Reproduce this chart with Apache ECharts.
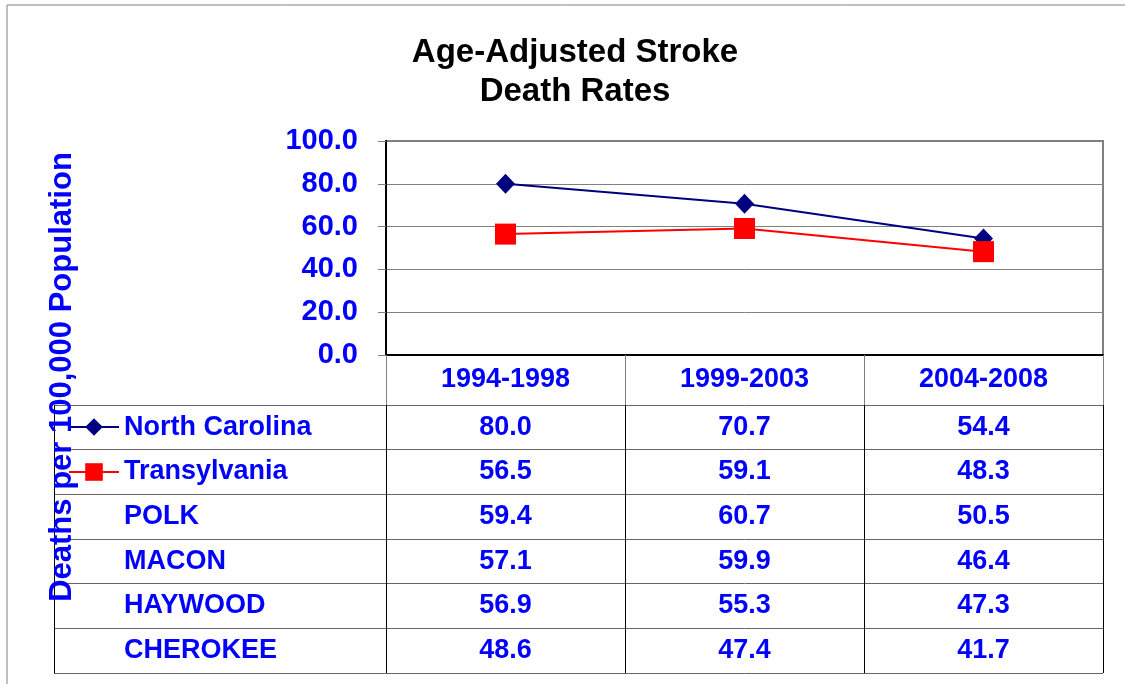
<!DOCTYPE html>
<html>
<head>
<meta charset="utf-8">
<title>Age-Adjusted Stroke Death Rates</title>
<script src="https://cdn.jsdelivr.net/npm/echarts@6/dist/echarts.min.js"></script>
<style>
  html, body { margin: 0; padding: 0; background: #fff; }
  #chart { width: 1125px; height: 684px; }
</style>
</head>
<body>
<div id="chart"></div>
<script>
// periods on the category axis
const periods = ['1994-1998', '1999-2003', '2004-2008'];
// rows of the data table
const rowNames = ['North Carolina', 'Transylvania', 'POLK', 'MACON', 'HAYWOOD', 'CHEROKEE'];
const northCarolina = [80.0, 70.7, 54.4];
const transylvania = [56.5, 59.1, 48.3];
const polk = [59.4, 60.7, 50.5];
const macon = [57.1, 59.9, 46.4];
const haywood = [56.9, 55.3, 47.3];
const cherokee = [48.6, 47.4, 41.7];
const yTicks = [0, 20, 40, 60, 80, 100];

const rowValues = [northCarolina, transylvania, polk, macon, haywood, cherokee];
const FONT = '"Liberation Sans", Arial, sans-serif';
const BLUE = '#0000FF';

// cells of the table: [period index, row index, value]
const cells = [];
rowValues.forEach((vals, r) => {
  vals.forEach((v, c) => cells.push([c, r, v]));
});

const chart = echarts.init(document.getElementById('chart'));

const legendItem = (name, top) => ({
  data: [name], left: 68, top: top, padding: 0, itemWidth: 50, itemHeight: 22,
  selectedMode: false, formatter: () => '', textStyle: { fontSize: 1 },
  lineStyle: { width: 2 }
});

const option = {
  animation: false,
  title: {
    text: 'Age-Adjusted Stroke\nDeath Rates',
    left: 570,
    top: 28,
    textAlign: 'center',
    textStyle: { fontFamily: FONT, fontSize: 33, fontWeight: 'bold', color: '#000', lineHeight: 39 }
  },
  legend: [legendItem(rowNames[0], 416), legendItem(rowNames[1], 461)],
  graphic: [
    {
      type: 'rect', silent: true, z: -10,
      shape: { x: 7, y: 5, width: 1140, height: 700 },
      style: { fill: 'none', stroke: '#808080', lineWidth: 1 }
    },
    {
      type: 'text', x: 62, y: 377, rotation: Math.PI / 2, z: 100,
      style: {
        text: 'Deaths per 100,000 Population',
        font: 'bold 31px ' + FONT, fill: BLUE,
        textAlign: 'center', textVerticalAlign: 'middle'
      }
    }
  ],
  grid: [
    { left: 386, top: 141, width: 717, height: 214, show: true, borderColor: '#808080', borderWidth: 2 },
    { left: 54, top: 405, width: 332, height: 268 },
    { left: 386, top: 405, width: 717, height: 268 }
  ],
  xAxis: [
    {
      type: 'category', gridIndex: 0, data: periods, boundaryGap: true,
      axisLine: { lineStyle: { color: '#000', width: 2 } },
      axisTick: { show: true, length: 50, lineStyle: { color: '#808080' } },
      axisLabel: { margin: 11, color: BLUE, fontFamily: FONT, fontSize: 27, fontWeight: 'bold' },
      splitLine: { show: false }
    },
    { type: 'value', gridIndex: 1, show: false, min: 0, max: 1 },
    {
      type: 'category', gridIndex: 2, data: periods, boundaryGap: true,
      axisLine: { show: false }, axisTick: { show: false }, axisLabel: { show: false },
      splitLine: { show: true, lineStyle: { color: '#000', width: 1 } }
    }
  ],
  yAxis: [
    {
      type: 'value', gridIndex: 0, min: 0, max: 100, interval: 20,
      axisLine: { show: true, lineStyle: { color: '#000', width: 2 } },
      axisTick: { show: true, length: 8, lineStyle: { color: '#808080' } },
      axisLabel: {
        margin: 28, color: BLUE, fontFamily: FONT, fontSize: 29, fontWeight: 'bold',
        formatter: v => yTicks.includes(v) ? v.toFixed(1) : ''
      },
      splitLine: { lineStyle: { color: '#808080', width: 1 } }
    },
    {
      type: 'category', gridIndex: 1, data: rowNames, inverse: true, boundaryGap: true,
      axisLine: { show: true, lineStyle: { color: '#000', width: 1 } },
      axisTick: { show: false },
      axisLabel: {
        inside: true, margin: 70, color: BLUE, fontFamily: FONT, fontSize: 27, fontWeight: 'bold'
      },
      splitLine: { show: true, lineStyle: { color: '#666', width: 1 } }
    },
    {
      type: 'category', gridIndex: 2, data: rowNames, inverse: true, boundaryGap: true,
      axisLine: { show: false }, axisTick: { show: false }, axisLabel: { show: false },
      splitLine: { show: true, lineStyle: { color: '#666', width: 1 } }
    }
  ],
  series: [
    {
      name: rowNames[0], type: 'line', xAxisIndex: 0, yAxisIndex: 0,
      data: northCarolina, symbol: 'diamond', symbolSize: [19, 20],
      lineStyle: { color: '#000080', width: 2 },
      itemStyle: { color: '#000080' }, z: 3
    },
    {
      name: rowNames[1], type: 'line', xAxisIndex: 0, yAxisIndex: 0,
      data: transylvania, symbol: 'rect', symbolSize: 21,
      lineStyle: { color: '#FF0000', width: 2 },
      itemStyle: { color: '#FF0000' }, z: 4
    },
    {
      name: 'table', type: 'scatter', xAxisIndex: 2, yAxisIndex: 2,
      data: cells, encode: { x: 0, y: 1 },
      symbol: 'rect', symbolSize: 1, itemStyle: { color: 'rgba(0,0,0,0)', opacity: 1 },
      label: {
        show: true, position: 'inside', color: BLUE, opacity: 1,
        fontFamily: FONT, fontSize: 27, fontWeight: 'bold',
        formatter: p => p.data[2].toFixed(1)
      }
    }
  ]
};

chart.setOption(option);
</script>
</body>
</html>
